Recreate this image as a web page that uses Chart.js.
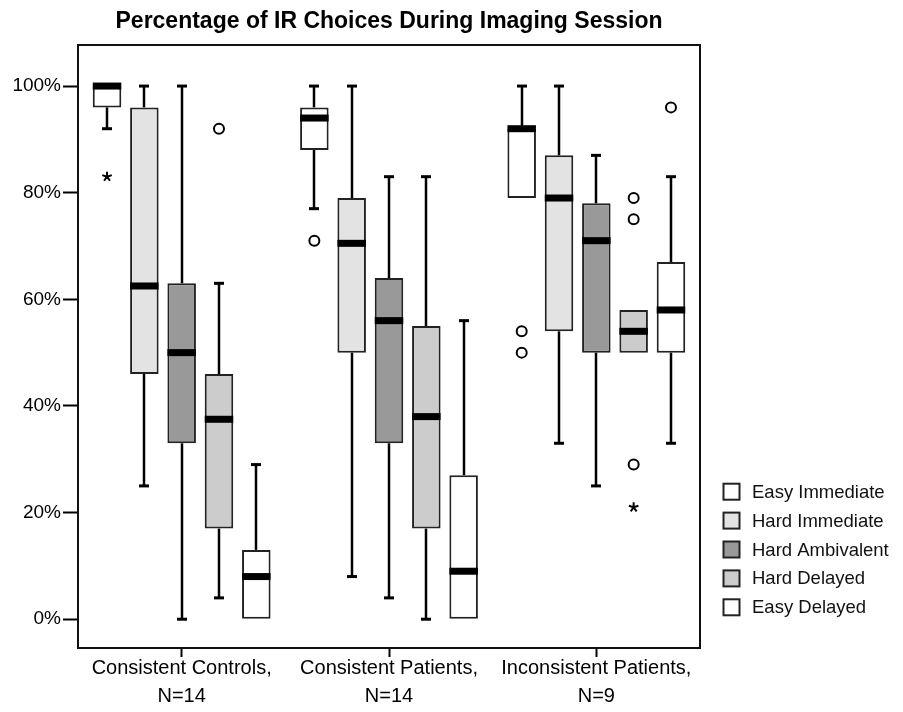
<!DOCTYPE html>
<html>
<head>
<meta charset="utf-8">
<title>Percentage of IR Choices During Imaging Session</title>
<script src="https://cdn.jsdelivr.net/npm/chart.js@4/dist/chart.umd.min.js"></script>
<style>
  html, body { margin: 0; padding: 0; background: #ffffff; }
  canvas { display: block; }
</style>
</head>
<body>
<canvas id="chart" width="903" height="712"></canvas>
<script>
// Groups on the x axis (two-line labels)
const groups = [
  ['Consistent Controls,', 'N=14'],
  ['Consistent Patients,', 'N=14'],
  ['Inconsistent Patients,', 'N=9']
];

// Choice types, one box per group each
const seriesNames = ['Easy Immediate', 'Hard Immediate', 'Hard Ambivalent', 'Hard Delayed', 'Easy Delayed'];
const seriesColors = ['#ffffff', '#e3e3e3', '#999999', '#cccccc', '#ffffff'];

// Box-plot statistics, [series][group], in percent
const whiskerLow  = [[92, 77, 79], [25, 8, 33], [0, 4, 25], [4, 0, 50], [0, 0, 33]];
const quartile1   = [[96, 88, 79], [46, 50, 54], [33, 33, 50], [17, 17, 50], [0, 0, 50]];
const medians     = [[100, 94, 92], [62.5, 70.5, 79], [50, 56, 71], [37.5, 38, 54], [8, 9, 58]];
const quartile3   = [[100, 96, 92], [96, 79, 87], [63, 64, 78], [46, 55, 58], [13, 27, 67]];
const whiskerHigh = [[100, 100, 100], [100, 100, 100], [100, 83, 87], [63, 83, 58], [29, 56, 83]];

// Outliers (circles) and extreme values (stars), [series][group] -> list
const outliers = [
  [[], [71], [54, 50]],
  [[], [], []],
  [[], [], []],
  [[92], [], [79, 75, 29]],
  [[], [], [96]]
];
const extremes = [
  [[83], [], []],
  [[], [], []],
  [[], [], []],
  [[], [], [21]],
  [[], [], []]
];

// Value axis
const yTicks = [0, 20, 40, 60, 80, 100];
const yTickLabels = ['0%', '20%', '40%', '60%', '80%', '100%'];

const FONT = "'Liberation Sans', Arial, Helvetica, sans-serif";
const INK = '#000000';
const EDGE = '#222222';

Chart.defaults.font.family = FONT;
Chart.defaults.color = INK;

// Whiskers, medians, outliers and extremes drawn around the floating-bar boxes
const boxDetails = {
  id: 'boxDetails',
  beforeDatasetsDraw(chart) {
    const { ctx } = chart;
    const y = chart.scales.y;
    ctx.save();
    ctx.strokeStyle = INK;
    chart.data.datasets.forEach((ds, si) => {
      const meta = chart.getDatasetMeta(si);
      meta.data.forEach((bar, gi) => {
        const x = Math.round(bar.x);
        const pairs = [
          [quartile3[si][gi], whiskerHigh[si][gi]],
          [quartile1[si][gi], whiskerLow[si][gi]]
        ];
        pairs.forEach(([edge, end]) => {
          if (edge === end) return;
          const y0 = y.getPixelForValue(edge);
          const y1 = y.getPixelForValue(end);
          ctx.lineWidth = 2.5;
          ctx.beginPath();
          ctx.moveTo(x, y0);
          ctx.lineTo(x, y1);
          ctx.stroke();
          ctx.lineWidth = 3;
          ctx.beginPath();
          ctx.moveTo(x - 5, y1);
          ctx.lineTo(x + 5, y1);
          ctx.stroke();
        });
      });
    });
    ctx.restore();
  },
  afterDatasetsDraw(chart) {
    const { ctx } = chart;
    const y = chart.scales.y;
    ctx.save();
    chart.data.datasets.forEach((ds, si) => {
      const meta = chart.getDatasetMeta(si);
      meta.data.forEach((bar, gi) => {
        const x = bar.x;
        const w = bar.width;
        // median band
        const ym = y.getPixelForValue(medians[si][gi]);
        ctx.fillStyle = INK;
        ctx.fillRect(x - w / 2, ym - 3.5, w, 7);
        // outliers
        ctx.strokeStyle = INK;
        ctx.lineWidth = 2;
        outliers[si][gi].forEach(v => {
          const yy = y.getPixelForValue(v);
          ctx.beginPath();
          ctx.arc(x, yy, 5, 0, Math.PI * 2);
          ctx.stroke();
        });
        // extremes
        extremes[si][gi].forEach(v => {
          const yy = y.getPixelForValue(v);
          ctx.beginPath();
          for (let k = 0; k < 5; k++) {
            const a = -Math.PI / 2 + k * 2 * Math.PI / 5;
            ctx.moveTo(x, yy);
            ctx.lineTo(x + Math.cos(a) * 5, yy + Math.sin(a) * 5);
          }
          ctx.stroke();
        });
      });
    });
    ctx.restore();
  }
};

// Frame around the plot area and the legend on the right
const frameAndLegend = {
  id: 'frameAndLegend',
  afterDraw(chart) {
    const { ctx, chartArea: a } = chart;
    ctx.save();
    ctx.strokeStyle = '#111111';
    ctx.lineWidth = 2;
    ctx.strokeRect(a.left, a.top, a.right - a.left, a.bottom - a.top);

    const boxX = a.right + 23.5;
    const textX = a.right + 52;
    const firstY = 491.7;
    const step = 28.9;
    ctx.font = '18.5px ' + FONT;
    ctx.textBaseline = 'middle';
    ctx.textAlign = 'left';
    chart.data.datasets.forEach((ds, i) => {
      const cy = firstY + i * step;
      ctx.fillStyle = ds.backgroundColor;
      ctx.fillRect(boxX, cy - 8, 16, 16);
      ctx.strokeStyle = EDGE;
      ctx.lineWidth = 2;
      ctx.strokeRect(boxX, cy - 8, 16, 16);
      ctx.fillStyle = '#111111';
      ctx.fillText(ds.label, textX, cy + 1);
    });
    ctx.restore();
  }
};

new Chart(document.getElementById('chart'), {
  type: 'bar',
  data: {
    labels: groups,
    datasets: seriesNames.map((name, si) => ({
      label: name,
      data: quartile1[si].map((q, gi) => [q, quartile3[si][gi]]),
      backgroundColor: seriesColors[si],
      borderColor: EDGE,
      borderWidth: 2,
      borderSkipped: false
    }))
  },
  options: {
    responsive: false,
    animation: false,
    devicePixelRatio: 1,
    layout: { padding: { left: 0, right: 203, top: 0, bottom: 0 } },
    datasets: { bar: { categoryPercentage: 0.9, barPercentage: 0.764 } },
    plugins: {
      legend: { display: false },
      tooltip: { enabled: false },
      title: {
        display: true,
        fullSize: false,
        text: 'Percentage of IR Choices During Imaging Session',
        color: INK,
        font: { family: FONT, size: 23, weight: 'bold' },
        padding: { top: 8.2, bottom: 9.2 }
      }
    },
    scales: {
      x: {
        offset: true,
        border: { display: false },
        grid: {
          offset: false,
          drawOnChartArea: false,
          drawTicks: true,
          tickLength: 9,
          tickWidth: 2,
          tickColor: INK
        },
        ticks: {
          color: INK,
          font: { family: FONT, size: 20, lineHeight: 1.4 },
          padding: -3,
          maxRotation: 0,
          autoSkip: false
        },
        afterFit(scale) { scale.height = 64; }
      },
      y: {
        min: -5.4,
        max: 107.7,
        border: { display: false },
        grid: {
          drawOnChartArea: false,
          drawTicks: true,
          tickLength: 15,
          tickWidth: 2,
          tickColor: INK
        },
        ticks: {
          color: INK,
          font: { family: FONT, size: 19 },
          padding: 2,
          callback: (v) => yTickLabels[yTicks.indexOf(v)]
        },
        afterBuildTicks(scale) { scale.ticks = yTicks.map(v => ({ value: v })); },
        afterFit(scale) { scale.width = 78; }
      }
    }
  },
  plugins: [boxDetails, frameAndLegend]
});
</script>
</body>
</html>
